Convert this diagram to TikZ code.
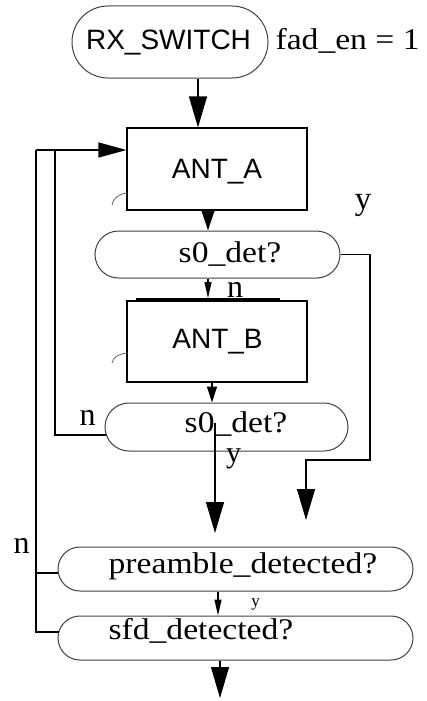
\documentclass[tikz,border=0pt]{standalone}
\usepackage{fontspec}
\setmainfont{Liberation Serif}
\newfontfamily\tser[FakeStretch=1.12]{Liberation Serif}
\newfontfamily\hsans{Liberation Sans}
\usetikzlibrary{arrows.meta,shapes.misc}
\begin{document}
\begin{tikzpicture}[x=1pt,y=-1pt,line width=1.2pt,
  stadium/.style={draw=black!75,line width=1pt,rounded rectangle,inner sep=0pt},
  boxnode/.style={draw=black,line width=1.1pt,rectangle,inner sep=0pt},
  sanstxt/.style={inner sep=0pt,font=\hsans\fontsize{28}{32}\selectfont},
  sertxt/.style={inner sep=0pt,font=\tser\fontsize{30}{34}\selectfont},
  lbl/.style={inner sep=0pt,font=\fontsize{#1}{#1}\selectfont},
  bigarr/.style={-{Triangle[width=18pt,length=31pt]}},
  midarr/.style={-{Triangle[width=13pt,length=20pt]}},
  smallarr/.style={-{Triangle[width=10pt,length=16pt]}},
  thinarr/.style={-{Triangle[width=7pt,length=16pt]}},
  backarr/.style={-{Triangle[width=15pt,length=28pt]}},
  nick/.style={draw=black!55,line width=0.9pt}]
\useasboundingbox (0,0) rectangle (426,701);

% shapes
\node[stadium,minimum width=196pt,minimum height=72pt] (rx) at (170,42) {};
\node[boxnode,minimum width=180pt,minimum height=82pt] (antA) at (217,169) {};
\node[stadium,minimum width=245pt,minimum height=47pt] (d1) at (217.5,254.5) {};
\node[boxnode,minimum width=180pt,minimum height=81pt] (antB) at (217,341.5) {};
\node[stadium,minimum width=243pt,minimum height=48pt] (d2) at (226.5,427) {};
\node[stadium,minimum width=355pt,minimum height=44pt] (pre) at (235.5,569) {};
\node[stadium,minimum width=355pt,minimum height=44pt] (sfd) at (235.5,638) {};

% texts
\node[sanstxt,anchor=base] (rxt) at (168.5,50) {RX\_SWITCH};
\node[sertxt,anchor=base west] (fad) at (275,50) {fad\_en = 1};
\node[sanstxt,anchor=base] (antAt) at (217,178) {ANT\_A};
\node[sanstxt,anchor=base] (antBt) at (217.5,348) {ANT\_B};
\node[sertxt,anchor=base] (d1t) at (230,262) {s0\_det?};
\node[sertxt,anchor=base] (d2t) at (236,432) {s0\_det?};
\node[sertxt,anchor=base] (pret) at (243,573) {preamble\_detected?};
\node[sertxt,anchor=base west] (sfdt) at (108,639) {sfd\_detected?};

% labels
\node[lbl=33,anchor=base] (ya) at (363,209) {y};
\node[lbl=32,anchor=base] (n1) at (235,297) {n};
\node[lbl=32,anchor=base] (n2) at (87.5,425) {n};
\node[lbl=30,anchor=base] (y2) at (233.5,462) {y};
\node[lbl=32,anchor=base] (n3) at (21.5,553) {n};
\node[lbl=17,anchor=base] (y3) at (255.5,606) {y};

% small marks
\draw[nick] (112,205) .. controls (113,198) and (119,194) .. (127,193);
\draw[nick] (112,363) .. controls (113,357) and (119,354) .. (127,353);
\draw[line width=1.6pt] (136,299) -- (280,299);

% coordinates
\coordinate (L0) at (36,150);
\coordinate (L1) at (55,150);
\coordinate (d2w) at (106,435);
\coordinate (prew) at (58,573);
\coordinate (sfdw) at (59,632);
\coordinate (r1) at (370,460);
\coordinate (r2) at (306,460);
\coordinate (r3) at (306,520);
\coordinate (d2s) at (215,423);
\coordinate (d2e) at (215,533);
\coordinate (endp) at (220,698);

% connectors
\draw[bigarr] (198,0 |- rx.south) -- (198,0 |- antA.north);
\draw[midarr] (208,0 |- antA.south) -- (208,0 |- d1.north);
\draw[thinarr] (208,0 |- d1.south) -- (208,298);
\draw[smallarr] (212,0 |- antB.south) -- (212,0 |- d2.north);
\draw[bigarr] (d2s) -- (d2e);
\draw[bigarr] (d1.east) -| (r1) -- (r2) -- (r3);
\draw (d2w) -| (L1);
\draw[backarr] (L0) -- (antA.west |- L0);
\draw (L0) |- (prew);
\draw (L0) |- (sfdw);
\draw[thinarr] (218,0 |- pre.south) -- (218,0 |- sfd.north);
\draw[bigarr] (220,0 |- sfd.south) -- (endp);
\end{tikzpicture}
\end{document}
